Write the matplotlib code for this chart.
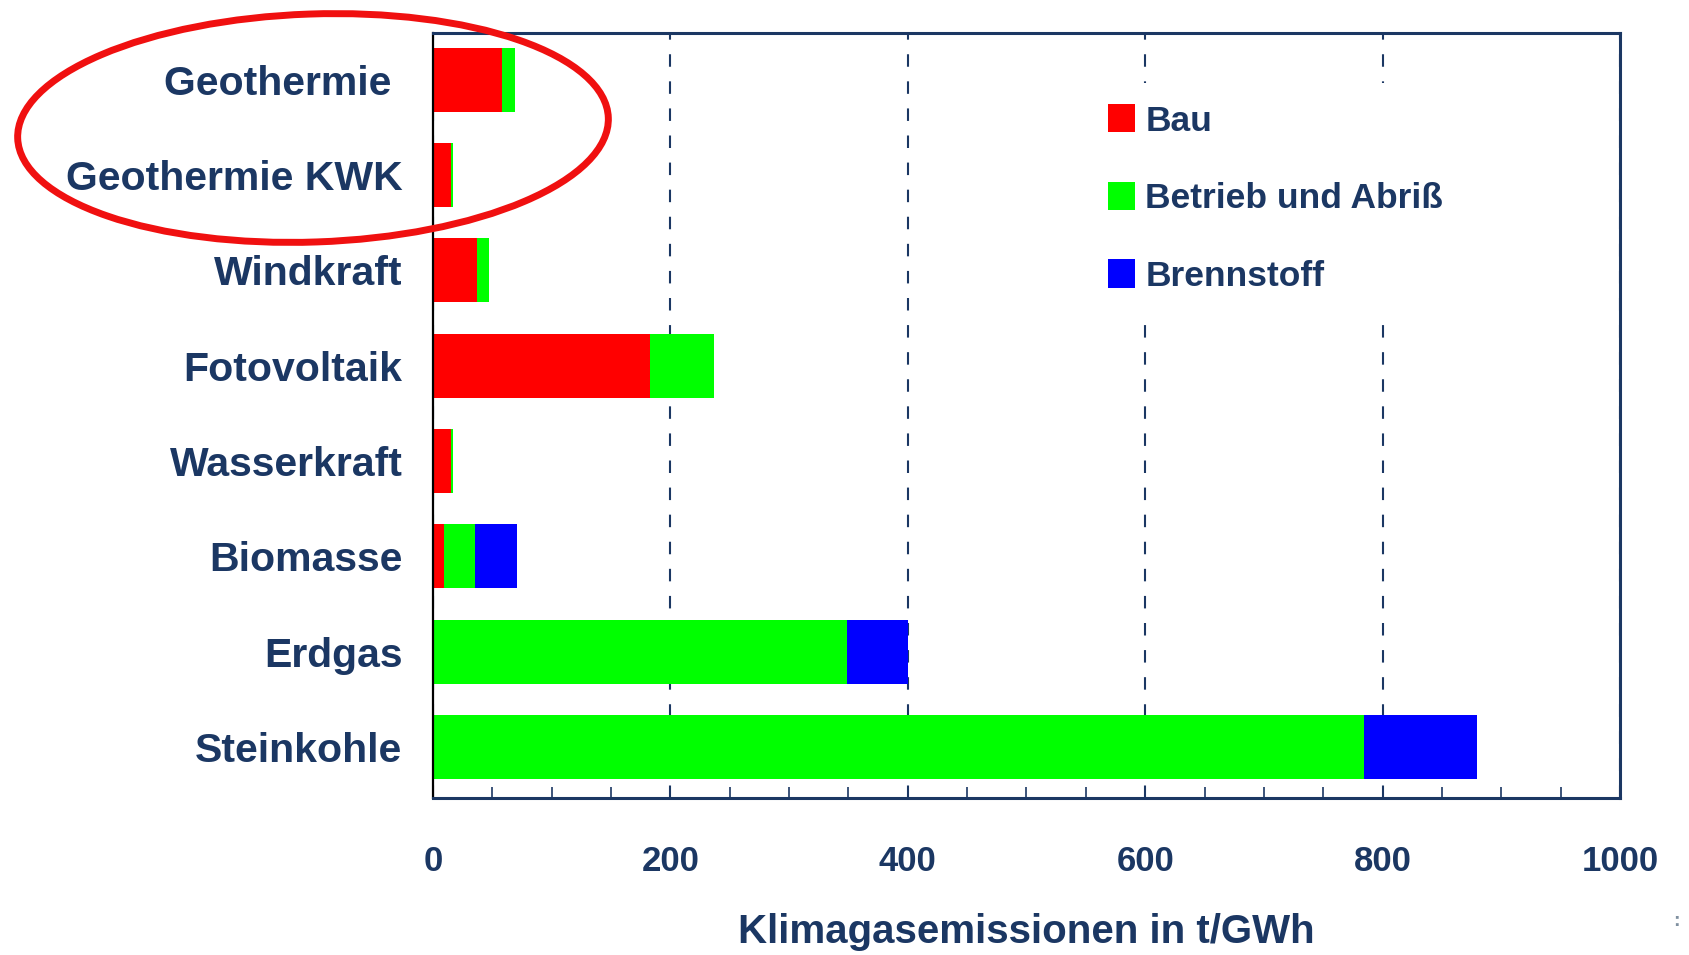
import matplotlib
matplotlib.use('Agg')
import matplotlib.pyplot as plt
from matplotlib.patches import Patch, Ellipse
from matplotlib.ticker import MultipleLocator
import numpy as np

plt.rcParams['font.family'] = ['Liberation Sans', 'DejaVu Sans']
plt.rcParams['font.weight'] = 'bold'

# data (t/GWh)
kategorien = ['Geothermie ', 'Geothermie KWK', 'Windkraft', 'Fotovoltaik',
              'Wasserkraft', 'Biomasse', 'Erdgas', 'Steinkohle']
bau = [58, 15, 37, 183, 15, 9, 0, 0]
betrieb = [11, 2, 10, 54, 2, 26, 349, 784]
brennstoff = [0, 0, 0, 0, 0, 36, 51, 96]
serien = ['Bau', 'Betrieb und Abriß', 'Brennstoff']
farben = ['#FF0000', '#00FF00', '#0000FF']

navy = '#1B3763'

fig = plt.figure(figsize=(16.89, 9.55), dpi=100)
ax = fig.add_axes([0.2564, 0.1644, 0.7027, 0.8010])

y = np.arange(len(kategorien))
h = 0.67
left = np.zeros(len(kategorien))
for werte, farbe in zip([bau, betrieb, brennstoff], farben):
    ax.barh(y, werte, height=h, left=left, color=farbe, zorder=2)
    left = left + np.array(werte)

ax.set_xlim(0, 1000)
ax.set_ylim(7.535, -0.49)
ax.set_yticks(y)
ax.set_yticklabels(kategorien, fontsize=29.5, color=navy, fontweight='bold')
ax.tick_params(axis='y', length=0, pad=22)

ax.xaxis.set_major_locator(MultipleLocator(200))
ax.xaxis.set_minor_locator(MultipleLocator(50))
ax.tick_params(axis='x', which='both', direction='in', length=8, width=1.2,
               color=navy, pad=34, labelsize=25, labelcolor=navy)
for lab in ax.get_xticklabels():
    lab.set_fontweight('bold')

ax.grid(axis='x', which='major', color=navy, linestyle=(0, (6, 7)), linewidth=1.5, zorder=1)
ax.set_axisbelow(True)

for s in ['top', 'right', 'bottom']:
    ax.spines[s].set_color(navy)
    ax.spines[s].set_linewidth(2.2)
ax.spines['left'].set_color('black')
ax.spines['left'].set_linewidth(1.6)

ax.set_xlabel('Klimagasemissionen in t/GWh', fontsize=29, color=navy,
              fontweight='bold', labelpad=25)

handles = [Patch(facecolor=c, edgecolor='none') for c in farben]
leg = ax.legend(handles, serien, loc='upper left', bbox_to_anchor=(0.536, 0.958),
                frameon=True, facecolor='white', edgecolor='none', framealpha=1,
                handlelength=0.75, handleheight=0.85,
                handletextpad=0.3, labelspacing=1.25, borderpad=0.6,
                prop={'weight': 'bold', 'size': 25.5})
for t in leg.get_texts():
    t.set_color(navy)

# red highlight ellipse around the geothermal rows (figure pixels)
ell = Ellipse((313 / 100, (955 - 128) / 100), 5.91, 2.28, angle=2,
              fill=False, edgecolor='#F01010', linewidth=5,
              transform=fig.dpi_scale_trans)
fig.add_artist(ell)

fig.text(0.9905, 0.03, ':', color='#8090A0', fontsize=14)

fig.savefig('out.png', dpi=100)
